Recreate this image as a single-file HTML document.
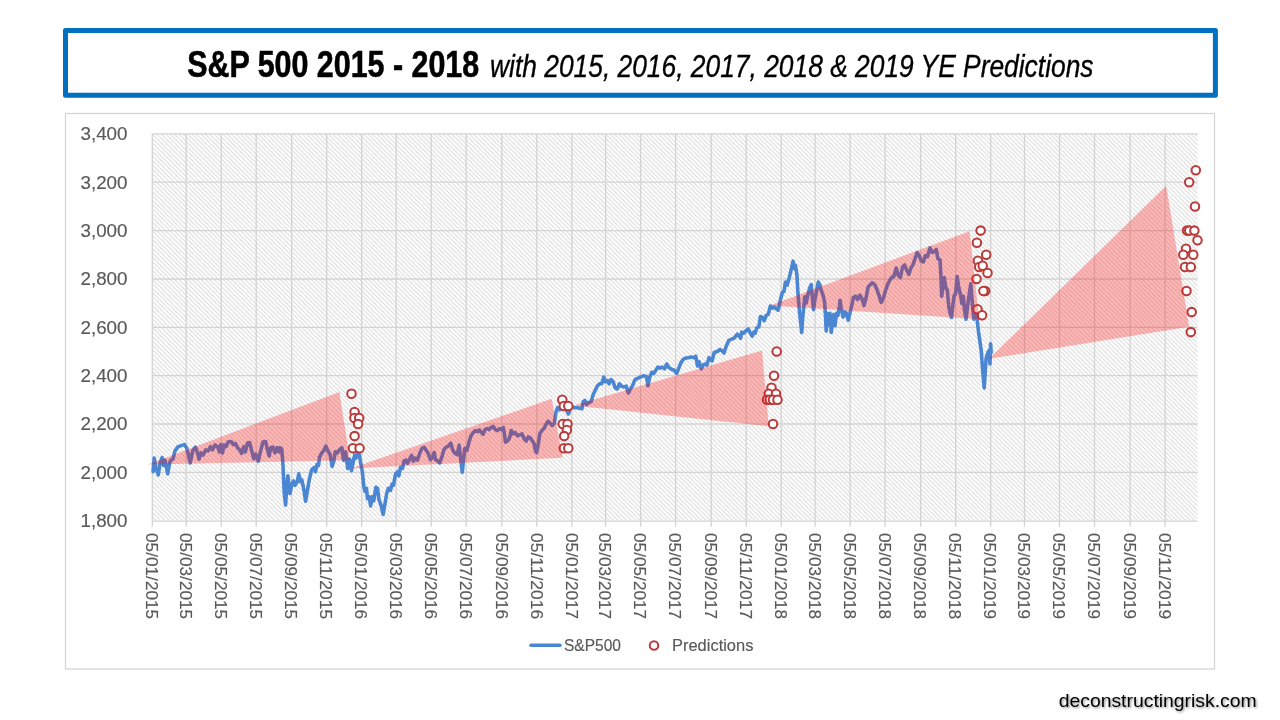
<!DOCTYPE html>
<html lang="en"><head><meta charset="utf-8"><title>S&amp;P 500 2015 - 2018</title>
<style>
html,body{margin:0;padding:0;background:#fff;}
body{width:1280px;height:720px;overflow:hidden;font-family:"Liberation Sans",Arial,sans-serif;}
svg{display:block;}
text{font-family:"Liberation Sans",Arial,sans-serif;}
.ax{stroke:#595959;stroke-width:0.15;}
</style></head><body>
<svg width="1280" height="720" viewBox="0 0 1280 720">
<defs>
<pattern id="hatch" width="4.4" height="4.4" patternUnits="userSpaceOnUse" x="152.3" y="133.9">
<rect width="4.4" height="4.4" fill="#fff"/>
<path d="M-1.1,-1.1 L5.5,5.5 M-1.1,3.3 L1.1,5.5 M3.3,-1.1 L5.5,1.1" stroke="#d6d6d6" stroke-width="0.9" fill="none"/>
</pattern>
<filter id="sh" x="-5%" y="-20%" width="110%" height="150%"><feDropShadow dx="1.2" dy="1.2" stdDeviation="0.9" flood-color="#000" flood-opacity="0.45"/></filter>
</defs>
<rect width="1280" height="720" fill="#fff"/>

<rect x="65.5" y="30.6" width="1149.9" height="64.7" fill="#fff" stroke="#0070c0" stroke-width="5" stroke-linejoin="round"/>
<text x="187.2" y="76.8" font-size="36.6" font-weight="bold" fill="#000" stroke="#000" stroke-width="0.6" textLength="292" lengthAdjust="spacingAndGlyphs">S&amp;P 500 2015 - 2018</text>
<text x="490" y="76.8" font-size="32" font-style="italic" fill="#000" stroke="#000" stroke-width="0.35" textLength="603.5" lengthAdjust="spacingAndGlyphs">with 2015, 2016, 2017, 2018 &amp; 2019 YE Predictions</text>
<rect x="65.5" y="113.5" width="1149" height="555.5" fill="#fff" stroke="#d3d3d3" stroke-width="1.2"/>
<rect x="152.3" y="133.9" width="1045.3" height="386.8" fill="url(#hatch)"/>
<path d="M152.3,472.4 H1197.6 M152.3,424.0 H1197.6 M152.3,375.7 H1197.6 M152.3,327.3 H1197.6 M152.3,279.0 H1197.6 M152.3,230.6 H1197.6 M152.3,182.2 H1197.6 M152.3,133.9 H1197.6 M152.3,133.9 V526.7 M186.2,133.9 V526.7 M221.2,133.9 V526.7 M256.2,133.9 V526.7 M291.7,133.9 V526.7 M326.7,133.9 V526.7 M361.7,133.9 V526.7 M396.2,133.9 V526.7 M431.2,133.9 V526.7 M466.2,133.9 V526.7 M501.8,133.9 V526.7 M536.8,133.9 V526.7 M571.8,133.9 V526.7 M605.6,133.9 V526.7 M640.6,133.9 V526.7 M675.6,133.9 V526.7 M711.2,133.9 V526.7 M746.2,133.9 V526.7 M781.2,133.9 V526.7 M815.1,133.9 V526.7 M850.1,133.9 V526.7 M885.1,133.9 V526.7 M920.7,133.9 V526.7 M955.7,133.9 V526.7 M990.7,133.9 V526.7 M1024.5,133.9 V526.7 M1059.5,133.9 V526.7 M1094.5,133.9 V526.7 M1130.1,133.9 V526.7 M1165.1,133.9 V526.7 M151.7,521.2 H1197.6" stroke="#d3d3d3" stroke-width="1.3" fill="none"/>
<text class="ax" x="127.5" y="527.1" font-size="18" fill="#595959" text-anchor="end" textLength="47" lengthAdjust="spacingAndGlyphs">1,800</text>
<text class="ax" x="127.5" y="478.8" font-size="18" fill="#595959" text-anchor="end" textLength="47" lengthAdjust="spacingAndGlyphs">2,000</text>
<text class="ax" x="127.5" y="430.4" font-size="18" fill="#595959" text-anchor="end" textLength="47" lengthAdjust="spacingAndGlyphs">2,200</text>
<text class="ax" x="127.5" y="382.1" font-size="18" fill="#595959" text-anchor="end" textLength="47" lengthAdjust="spacingAndGlyphs">2,400</text>
<text class="ax" x="127.5" y="333.7" font-size="18" fill="#595959" text-anchor="end" textLength="47" lengthAdjust="spacingAndGlyphs">2,600</text>
<text class="ax" x="127.5" y="285.4" font-size="18" fill="#595959" text-anchor="end" textLength="47" lengthAdjust="spacingAndGlyphs">2,800</text>
<text class="ax" x="127.5" y="237.0" font-size="18" fill="#595959" text-anchor="end" textLength="47" lengthAdjust="spacingAndGlyphs">3,000</text>
<text class="ax" x="127.5" y="188.7" font-size="18" fill="#595959" text-anchor="end" textLength="47" lengthAdjust="spacingAndGlyphs">3,200</text>
<text class="ax" x="127.5" y="140.3" font-size="18" fill="#595959" text-anchor="end" textLength="47" lengthAdjust="spacingAndGlyphs">3,400</text>
<text class="ax" transform="translate(146.0,533.0) rotate(90)" x="0" y="0" font-size="16.6" fill="#595959" textLength="86.2" lengthAdjust="spacingAndGlyphs">05/01/2015</text>
<text class="ax" transform="translate(179.9,533.0) rotate(90)" x="0" y="0" font-size="16.6" fill="#595959" textLength="86.2" lengthAdjust="spacingAndGlyphs">05/03/2015</text>
<text class="ax" transform="translate(214.9,533.0) rotate(90)" x="0" y="0" font-size="16.6" fill="#595959" textLength="86.2" lengthAdjust="spacingAndGlyphs">05/05/2015</text>
<text class="ax" transform="translate(249.9,533.0) rotate(90)" x="0" y="0" font-size="16.6" fill="#595959" textLength="86.2" lengthAdjust="spacingAndGlyphs">05/07/2015</text>
<text class="ax" transform="translate(285.4,533.0) rotate(90)" x="0" y="0" font-size="16.6" fill="#595959" textLength="86.2" lengthAdjust="spacingAndGlyphs">05/09/2015</text>
<text class="ax" transform="translate(320.4,533.0) rotate(90)" x="0" y="0" font-size="16.6" fill="#595959" textLength="86.2" lengthAdjust="spacingAndGlyphs">05/11/2015</text>
<text class="ax" transform="translate(355.4,533.0) rotate(90)" x="0" y="0" font-size="16.6" fill="#595959" textLength="86.2" lengthAdjust="spacingAndGlyphs">05/01/2016</text>
<text class="ax" transform="translate(389.9,533.0) rotate(90)" x="0" y="0" font-size="16.6" fill="#595959" textLength="86.2" lengthAdjust="spacingAndGlyphs">05/03/2016</text>
<text class="ax" transform="translate(424.9,533.0) rotate(90)" x="0" y="0" font-size="16.6" fill="#595959" textLength="86.2" lengthAdjust="spacingAndGlyphs">05/05/2016</text>
<text class="ax" transform="translate(459.9,533.0) rotate(90)" x="0" y="0" font-size="16.6" fill="#595959" textLength="86.2" lengthAdjust="spacingAndGlyphs">05/07/2016</text>
<text class="ax" transform="translate(495.5,533.0) rotate(90)" x="0" y="0" font-size="16.6" fill="#595959" textLength="86.2" lengthAdjust="spacingAndGlyphs">05/09/2016</text>
<text class="ax" transform="translate(530.5,533.0) rotate(90)" x="0" y="0" font-size="16.6" fill="#595959" textLength="86.2" lengthAdjust="spacingAndGlyphs">05/11/2016</text>
<text class="ax" transform="translate(565.5,533.0) rotate(90)" x="0" y="0" font-size="16.6" fill="#595959" textLength="86.2" lengthAdjust="spacingAndGlyphs">05/01/2017</text>
<text class="ax" transform="translate(599.3,533.0) rotate(90)" x="0" y="0" font-size="16.6" fill="#595959" textLength="86.2" lengthAdjust="spacingAndGlyphs">05/03/2017</text>
<text class="ax" transform="translate(634.3,533.0) rotate(90)" x="0" y="0" font-size="16.6" fill="#595959" textLength="86.2" lengthAdjust="spacingAndGlyphs">05/05/2017</text>
<text class="ax" transform="translate(669.3,533.0) rotate(90)" x="0" y="0" font-size="16.6" fill="#595959" textLength="86.2" lengthAdjust="spacingAndGlyphs">05/07/2017</text>
<text class="ax" transform="translate(704.9,533.0) rotate(90)" x="0" y="0" font-size="16.6" fill="#595959" textLength="86.2" lengthAdjust="spacingAndGlyphs">05/09/2017</text>
<text class="ax" transform="translate(739.9,533.0) rotate(90)" x="0" y="0" font-size="16.6" fill="#595959" textLength="86.2" lengthAdjust="spacingAndGlyphs">05/11/2017</text>
<text class="ax" transform="translate(774.9,533.0) rotate(90)" x="0" y="0" font-size="16.6" fill="#595959" textLength="86.2" lengthAdjust="spacingAndGlyphs">05/01/2018</text>
<text class="ax" transform="translate(808.8,533.0) rotate(90)" x="0" y="0" font-size="16.6" fill="#595959" textLength="86.2" lengthAdjust="spacingAndGlyphs">05/03/2018</text>
<text class="ax" transform="translate(843.8,533.0) rotate(90)" x="0" y="0" font-size="16.6" fill="#595959" textLength="86.2" lengthAdjust="spacingAndGlyphs">05/05/2018</text>
<text class="ax" transform="translate(878.8,533.0) rotate(90)" x="0" y="0" font-size="16.6" fill="#595959" textLength="86.2" lengthAdjust="spacingAndGlyphs">05/07/2018</text>
<text class="ax" transform="translate(914.4,533.0) rotate(90)" x="0" y="0" font-size="16.6" fill="#595959" textLength="86.2" lengthAdjust="spacingAndGlyphs">05/09/2018</text>
<text class="ax" transform="translate(949.4,533.0) rotate(90)" x="0" y="0" font-size="16.6" fill="#595959" textLength="86.2" lengthAdjust="spacingAndGlyphs">05/11/2018</text>
<text class="ax" transform="translate(984.4,533.0) rotate(90)" x="0" y="0" font-size="16.6" fill="#595959" textLength="86.2" lengthAdjust="spacingAndGlyphs">05/01/2019</text>
<text class="ax" transform="translate(1018.2,533.0) rotate(90)" x="0" y="0" font-size="16.6" fill="#595959" textLength="86.2" lengthAdjust="spacingAndGlyphs">05/03/2019</text>
<text class="ax" transform="translate(1053.2,533.0) rotate(90)" x="0" y="0" font-size="16.6" fill="#595959" textLength="86.2" lengthAdjust="spacingAndGlyphs">05/05/2019</text>
<text class="ax" transform="translate(1088.2,533.0) rotate(90)" x="0" y="0" font-size="16.6" fill="#595959" textLength="86.2" lengthAdjust="spacingAndGlyphs">05/07/2019</text>
<text class="ax" transform="translate(1123.8,533.0) rotate(90)" x="0" y="0" font-size="16.6" fill="#595959" textLength="86.2" lengthAdjust="spacingAndGlyphs">05/09/2019</text>
<text class="ax" transform="translate(1158.8,533.0) rotate(90)" x="0" y="0" font-size="16.6" fill="#595959" textLength="86.2" lengthAdjust="spacingAndGlyphs">05/11/2019</text>
<polyline points="153.1,471.7 154.2,458.1 155.8,467.5 158.3,474.8 160.0,463.3 162.1,457.5 163.5,465.4 165.0,460.2 167.7,473.8 169.8,462.3 170.8,460.2 172.9,459.2 175.0,450.8 178.1,446.7 181.2,445.6 184.4,444.6 186.5,447.7 188.5,455.0 190.2,462.9 192.7,450.8 195.4,447.1 197.5,452.9 199.0,459.2 201.0,452.9 203.1,455.0 205.8,449.8 208.3,450.8 210.4,446.7 212.5,449.8 215.0,445.0 217.7,446.7 219.4,451.9 220.8,444.6 222.5,452.9 224.0,445.0 226.0,446.7 228.1,442.1 231.2,441.5 233.3,444.6 235.4,443.5 237.5,447.7 239.6,449.8 241.7,453.3 243.8,446.7 245.4,451.9 247.5,442.9 249.6,442.5 251.7,450.8 253.8,458.8 255.8,454.0 258.3,461.2 260.4,451.9 262.9,442.1 265.6,441.5 267.7,450.8 269.2,456.0 270.8,447.7 272.9,447.1 275.0,452.9 277.1,447.7 279.2,451.9 280.0,447.7 281.7,448.8 282.9,463.3 284.2,492.5 285.6,505.0 286.9,484.2 287.9,475.8 290.0,493.5 291.9,484.2 293.5,481.0 295.0,485.2 297.1,482.1 298.8,473.8 300.4,481.7 301.9,480.0 304.0,490.4 305.6,501.2 307.1,492.5 309.2,480.0 311.7,469.6 314.4,467.5 315.4,471.7 317.1,464.4 318.5,465.4 319.6,457.1 321.7,452.9 323.8,450.8 325.8,446.2 327.9,450.8 330.0,454.0 332.1,466.5 333.8,461.2 335.2,451.9 337.3,452.9 339.4,449.8 341.9,447.7 343.5,460.2 345.6,451.9 347.7,468.5 349.8,459.2 351.5,470.6 352.9,463.3 354.6,455.0 356.0,458.1 357.5,452.9 359.2,454.6 360.8,463.3 362.3,471.7 363.8,486.2 365.0,491.5 366.5,488.3 367.5,498.8 369.2,496.7 370.6,506.0 372.1,496.7 373.8,500.8 375.8,487.3 377.5,488.3 379.0,499.8 381.0,505.0 383.1,514.4 384.8,505.0 386.7,493.5 388.3,488.3 390.4,490.4 392.1,484.2 393.5,485.2 395.6,473.8 397.7,471.7 398.8,475.8 400.4,467.5 402.5,468.5 404.0,461.2 406.0,460.2 407.5,463.3 409.6,459.2 411.7,455.4 413.3,461.2 415.4,458.1 417.5,460.2 420.0,452.5 422.1,448.3 424.2,447.3 426.2,450.4 428.3,453.5 430.4,459.8 432.1,457.7 434.2,452.5 435.6,459.8 437.7,460.8 439.8,462.9 441.9,456.7 444.0,449.4 446.0,447.3 448.1,446.2 450.8,443.1 452.9,450.4 455.0,453.5 457.1,454.6 459.2,445.2 460.6,458.8 462.3,472.3 463.8,456.7 464.8,448.3 466.9,450.4 469.0,442.1 471.0,435.8 473.1,432.7 475.2,430.6 477.3,431.7 479.4,430.0 481.5,432.7 483.1,434.2 485.0,429.6 487.1,428.5 489.2,429.6 491.2,427.5 493.3,426.5 495.4,429.6 497.5,430.6 499.6,428.5 501.7,429.6 503.3,427.5 504.4,433.8 505.4,442.1 507.5,441.0 509.6,437.9 511.2,430.6 513.3,433.8 515.4,432.7 517.5,435.8 519.6,434.8 522.1,433.8 524.2,439.0 526.2,441.0 528.3,436.9 530.4,437.9 532.5,441.0 534.2,444.2 535.6,451.5 536.7,452.5 538.3,444.2 539.8,433.8 541.9,430.6 544.0,428.5 546.0,424.4 548.1,421.2 550.2,423.3 552.3,425.4 554.4,423.3 555.8,412.9 557.5,407.7 559.6,409.8 561.7,408.3 563.8,406.7 565.8,408.8 568.3,414.0 570.0,409.8 571.5,406.7 574.6,407.7 577.7,407.7 581.9,408.8 583.3,401.5 585.0,400.4 586.7,404.6 588.8,402.5 591.2,401.5 593.3,394.2 595.4,390.0 597.5,385.8 599.6,383.8 601.7,383.8 603.8,377.1 605.4,381.7 607.5,380.6 609.0,383.8 611.0,379.6 613.1,381.7 615.2,387.9 617.3,389.0 619.4,383.8 621.5,386.2 623.5,386.9 626.2,386.2 628.3,393.1 630.4,389.0 632.5,385.8 635.0,379.6 637.5,378.5 640.2,377.1 643.3,375.8 646.5,376.5 647.9,385.8 649.6,377.5 651.7,372.3 653.8,373.3 655.8,370.2 657.9,367.1 660.0,368.1 662.1,367.1 664.6,368.8 666.7,364.0 668.8,367.5 671.5,369.2 674.2,370.2 676.7,373.3 678.8,368.1 680.8,362.9 682.9,359.8 685.0,358.3 688.1,357.7 691.2,357.1 694.4,357.7 695.8,356.2 697.5,366.0 699.2,361.9 701.2,368.8 703.3,365.0 705.4,364.0 706.9,365.0 709.0,357.7 710.4,359.8 712.1,360.8 714.2,352.5 717.3,351.5 720.0,349.4 720.8,350.4 721.9,350.8 724.0,352.9 726.0,346.7 728.8,340.4 731.2,339.4 734.4,337.9 737.1,334.2 738.5,335.2 740.6,338.3 741.7,332.1 743.8,333.1 745.8,331.0 748.3,329.0 750.4,333.1 752.1,336.2 753.8,332.1 755.2,333.1 756.7,327.9 758.8,326.9 760.4,316.5 762.5,317.5 764.2,320.6 766.2,315.4 768.3,314.4 770.4,306.0 772.5,308.1 774.6,307.1 776.7,309.2 778.1,310.2 780.2,300.8 782.3,292.5 784.0,291.5 785.4,282.1 787.1,285.2 789.2,277.9 791.2,269.6 793.1,261.2 794.4,268.5 795.4,265.4 796.9,274.8 797.9,292.5 799.6,313.3 800.6,321.7 801.7,332.5 802.7,317.5 803.8,307.1 804.8,296.7 806.2,302.9 807.9,294.6 809.6,288.3 811.2,284.6 812.5,298.8 813.5,309.6 815.0,298.8 816.7,290.4 818.3,282.1 819.8,284.6 821.2,290.4 822.9,294.6 824.6,301.9 825.6,317.5 826.2,331.0 827.5,313.3 828.8,324.8 830.0,313.3 831.2,332.5 832.5,321.7 833.8,314.4 835.0,325.8 836.5,313.3 837.9,315.4 839.6,305.0 840.0,300.4 841.7,310.8 843.1,317.1 844.6,311.9 846.2,312.9 848.3,320.2 850.0,312.9 851.5,306.7 853.5,297.3 855.6,296.2 857.7,299.4 859.8,295.2 861.9,298.3 864.0,305.6 866.0,298.3 868.1,286.9 870.2,284.8 872.3,282.7 875.0,284.8 877.1,290.0 879.2,296.2 881.2,302.5 883.3,298.3 885.4,291.0 887.5,284.8 889.6,280.6 891.7,277.5 893.8,276.5 896.2,268.1 898.3,275.4 900.4,277.5 902.5,267.1 904.6,265.0 906.7,270.2 908.8,274.4 910.8,268.1 912.9,265.0 915.0,258.8 917.1,252.5 919.2,255.6 921.2,260.8 923.3,261.9 925.4,255.6 927.5,256.7 930.0,247.9 932.1,252.5 934.2,251.5 936.2,249.4 937.9,258.8 940.0,259.8 941.0,277.5 941.7,296.2 943.1,285.8 944.2,277.5 945.8,287.9 947.3,290.0 948.8,306.7 950.0,312.9 951.5,317.5 952.9,304.6 954.2,295.2 955.6,294.2 957.1,276.5 958.8,287.9 960.4,294.2 961.9,303.5 963.3,296.2 964.6,310.8 966.0,319.2 967.5,306.7 969.2,294.2 970.8,283.8 972.3,302.5 973.8,319.2 975.4,306.7 977.1,317.1 977.1,319.2 978.5,331.7 980.0,342.1 981.2,350.4 982.7,371.2 984.2,387.9 985.4,369.2 986.2,357.7 987.9,352.5 989.2,350.4 990.0,364.0 990.6,343.8 991.2,352.5" fill="none" stroke="#4a86d2" stroke-width="3.6" stroke-linejoin="round" stroke-linecap="round"/>
<circle cx="351.5" cy="393.8" r="4.25" fill="#fff" stroke="#ba3b3b" stroke-width="2.05"/>
<circle cx="354.6" cy="411.9" r="4.25" fill="#fff" stroke="#ba3b3b" stroke-width="2.05"/>
<circle cx="354.4" cy="418.0" r="4.25" fill="#fff" stroke="#ba3b3b" stroke-width="2.05"/>
<circle cx="359.2" cy="418.0" r="4.25" fill="#fff" stroke="#ba3b3b" stroke-width="2.05"/>
<circle cx="358.1" cy="424.0" r="4.25" fill="#fff" stroke="#ba3b3b" stroke-width="2.05"/>
<circle cx="354.6" cy="436.1" r="4.25" fill="#fff" stroke="#ba3b3b" stroke-width="2.05"/>
<circle cx="352.9" cy="448.2" r="4.25" fill="#fff" stroke="#ba3b3b" stroke-width="2.05"/>
<circle cx="359.6" cy="448.2" r="4.25" fill="#fff" stroke="#ba3b3b" stroke-width="2.05"/>
<circle cx="562.3" cy="399.8" r="4.25" fill="#fff" stroke="#ba3b3b" stroke-width="2.05"/>
<circle cx="563.8" cy="405.9" r="4.25" fill="#fff" stroke="#ba3b3b" stroke-width="2.05"/>
<circle cx="568.3" cy="405.9" r="4.25" fill="#fff" stroke="#ba3b3b" stroke-width="2.05"/>
<circle cx="562.7" cy="424.0" r="4.25" fill="#fff" stroke="#ba3b3b" stroke-width="2.05"/>
<circle cx="567.5" cy="424.0" r="4.25" fill="#fff" stroke="#ba3b3b" stroke-width="2.05"/>
<circle cx="566.9" cy="430.0" r="4.25" fill="#fff" stroke="#ba3b3b" stroke-width="2.05"/>
<circle cx="564.2" cy="436.1" r="4.25" fill="#fff" stroke="#ba3b3b" stroke-width="2.05"/>
<circle cx="563.8" cy="448.2" r="4.25" fill="#fff" stroke="#ba3b3b" stroke-width="2.05"/>
<circle cx="568.3" cy="448.2" r="4.25" fill="#fff" stroke="#ba3b3b" stroke-width="2.05"/>
<circle cx="776.7" cy="351.5" r="4.25" fill="#fff" stroke="#ba3b3b" stroke-width="2.05"/>
<circle cx="774.0" cy="375.7" r="4.25" fill="#fff" stroke="#ba3b3b" stroke-width="2.05"/>
<circle cx="771.5" cy="387.7" r="4.25" fill="#fff" stroke="#ba3b3b" stroke-width="2.05"/>
<circle cx="768.8" cy="393.8" r="4.25" fill="#fff" stroke="#ba3b3b" stroke-width="2.05"/>
<circle cx="776.0" cy="393.8" r="4.25" fill="#fff" stroke="#ba3b3b" stroke-width="2.05"/>
<circle cx="767.0" cy="399.8" r="4.25" fill="#fff" stroke="#ba3b3b" stroke-width="2.05"/>
<circle cx="769.8" cy="399.8" r="4.25" fill="#fff" stroke="#ba3b3b" stroke-width="2.05"/>
<circle cx="773.0" cy="399.8" r="4.25" fill="#fff" stroke="#ba3b3b" stroke-width="2.05"/>
<circle cx="777.5" cy="399.8" r="4.25" fill="#fff" stroke="#ba3b3b" stroke-width="2.05"/>
<circle cx="773.0" cy="424.0" r="4.25" fill="#fff" stroke="#ba3b3b" stroke-width="2.05"/>
<circle cx="980.6" cy="230.6" r="4.25" fill="#fff" stroke="#ba3b3b" stroke-width="2.05"/>
<circle cx="976.9" cy="242.7" r="4.25" fill="#fff" stroke="#ba3b3b" stroke-width="2.05"/>
<circle cx="986.2" cy="254.8" r="4.25" fill="#fff" stroke="#ba3b3b" stroke-width="2.05"/>
<circle cx="977.9" cy="260.8" r="4.25" fill="#fff" stroke="#ba3b3b" stroke-width="2.05"/>
<circle cx="979.2" cy="266.9" r="4.25" fill="#fff" stroke="#ba3b3b" stroke-width="2.05"/>
<circle cx="982.7" cy="265.7" r="4.25" fill="#fff" stroke="#ba3b3b" stroke-width="2.05"/>
<circle cx="987.5" cy="272.9" r="4.25" fill="#fff" stroke="#ba3b3b" stroke-width="2.05"/>
<circle cx="976.5" cy="279.0" r="4.25" fill="#fff" stroke="#ba3b3b" stroke-width="2.05"/>
<circle cx="985.2" cy="291.0" r="4.25" fill="#fff" stroke="#ba3b3b" stroke-width="2.05"/>
<circle cx="983.4" cy="291.0" r="4.25" fill="#fff" stroke="#ba3b3b" stroke-width="2.05"/>
<circle cx="977.5" cy="309.2" r="4.25" fill="#fff" stroke="#ba3b3b" stroke-width="2.05"/>
<circle cx="982.1" cy="315.2" r="4.25" fill="#fff" stroke="#ba3b3b" stroke-width="2.05"/>
<circle cx="1195.8" cy="170.2" r="4.25" fill="#fff" stroke="#ba3b3b" stroke-width="2.05"/>
<circle cx="1189.2" cy="182.2" r="4.25" fill="#fff" stroke="#ba3b3b" stroke-width="2.05"/>
<circle cx="1195.0" cy="206.4" r="4.25" fill="#fff" stroke="#ba3b3b" stroke-width="2.05"/>
<circle cx="1187.0" cy="230.6" r="4.25" fill="#fff" stroke="#ba3b3b" stroke-width="2.05"/>
<circle cx="1189.2" cy="230.6" r="4.25" fill="#fff" stroke="#ba3b3b" stroke-width="2.05"/>
<circle cx="1194.4" cy="230.6" r="4.25" fill="#fff" stroke="#ba3b3b" stroke-width="2.05"/>
<circle cx="1197.5" cy="240.3" r="4.25" fill="#fff" stroke="#ba3b3b" stroke-width="2.05"/>
<circle cx="1186.0" cy="248.7" r="4.25" fill="#fff" stroke="#ba3b3b" stroke-width="2.05"/>
<circle cx="1183.3" cy="254.8" r="4.25" fill="#fff" stroke="#ba3b3b" stroke-width="2.05"/>
<circle cx="1193.3" cy="254.8" r="4.25" fill="#fff" stroke="#ba3b3b" stroke-width="2.05"/>
<circle cx="1185.0" cy="266.9" r="4.25" fill="#fff" stroke="#ba3b3b" stroke-width="2.05"/>
<circle cx="1190.8" cy="266.9" r="4.25" fill="#fff" stroke="#ba3b3b" stroke-width="2.05"/>
<circle cx="1186.5" cy="291.0" r="4.25" fill="#fff" stroke="#ba3b3b" stroke-width="2.05"/>
<circle cx="1191.7" cy="312.1" r="4.25" fill="#fff" stroke="#ba3b3b" stroke-width="2.05"/>
<circle cx="1190.8" cy="332.1" r="4.25" fill="#fff" stroke="#ba3b3b" stroke-width="2.05"/>
<polygon points="148.0,464.5 339.4,392.0 350.0,460.2" fill="#ff0000" fill-opacity="0.28"/>
<polygon points="350.8,468.5 551.7,398.8 562.7,457.7" fill="#ff0000" fill-opacity="0.28"/>
<polygon points="573.5,405.6 762.0,350.6 768.8,426.2" fill="#ff0000" fill-opacity="0.28"/>
<polygon points="769.8,305.4 969.6,231.2 979.2,319.2" fill="#ff0000" fill-opacity="0.28"/>
<polygon points="989.0,358.8 1166.2,185.8 1189.2,326.7" fill="#ff0000" fill-opacity="0.28"/>
<line x1="531" y1="645.3" x2="560" y2="645.3" stroke="#4a86d2" stroke-width="3.6" stroke-linecap="round"/>
<text class="ax" x="564" y="651" font-size="16" fill="#595959" textLength="57" lengthAdjust="spacingAndGlyphs">S&amp;P500</text>
<circle cx="654" cy="645.5" r="4.25" fill="#fff" stroke="#ba3b3b" stroke-width="2.05"/>
<text class="ax" x="672" y="651" font-size="16" fill="#595959" textLength="81.4" lengthAdjust="spacingAndGlyphs">Predictions</text>
<text x="1058.7" y="706.6" font-size="19" fill="#000" textLength="198" lengthAdjust="spacingAndGlyphs" filter="url(#sh)">deconstructingrisk.com</text>
</svg></body></html>
